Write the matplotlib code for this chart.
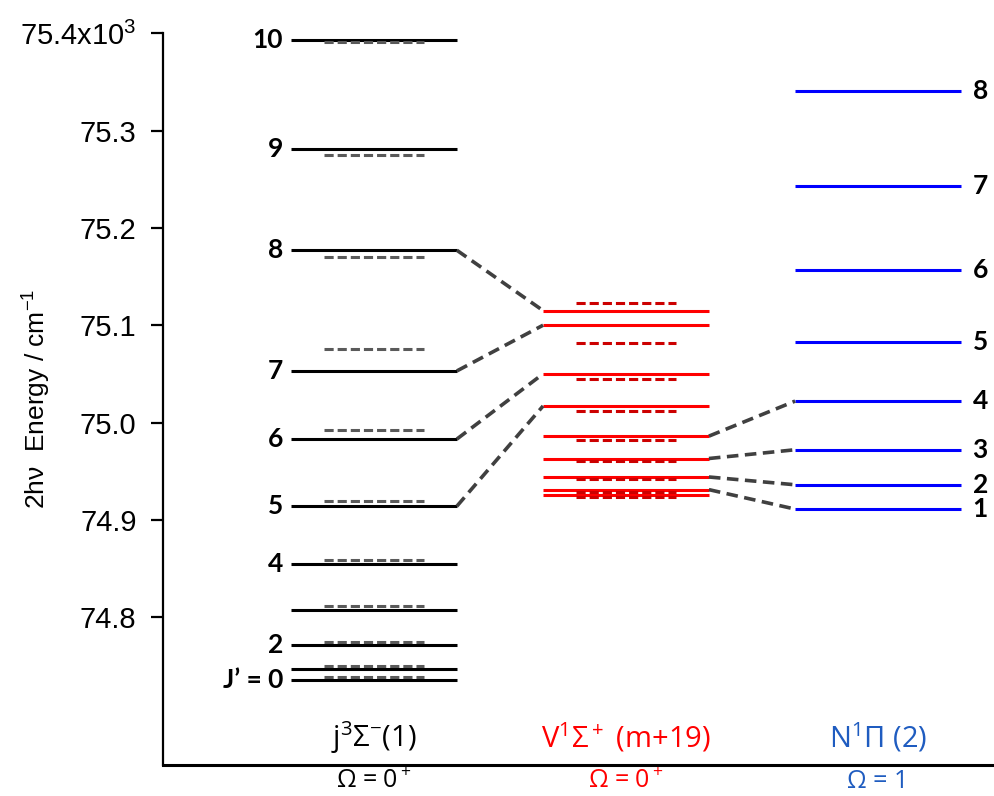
import matplotlib
matplotlib.use("Agg")
import matplotlib.pyplot as plt
from matplotlib.transforms import blended_transform_factory

# ---------------- data (cm^-1) ----------------
black_J = [0, 1, 2, 3, 4, 5, 6, 7, 8, 9, 10]
black_obs = [74735, 74747, 74771, 74807, 74855, 74914, 74983, 75053, 75177, 75281, 75393]
black_calc = [74738, 74750, 74774, 74811, 74859, 74919, 74992, 75076, 75170, 75275, 75391]
black_labels = ["J’ = 0", "", "2", "", "4", "5", "6", "7", "8", "9", "10"]

red_obs = [74925, 74931, 74944, 74963, 74986, 75017, 75050, 75100, 75115]
red_calc = [74923, 74929, 74942, 74960, 74982, 75012, 75045, 75082, 75123]

blue_J = [1, 2, 3, 4, 5, 6, 7, 8]
blue_obs = [74911, 74936, 74972, 75022, 75083, 75157, 75243, 75341]
blue_labels = ["1", "2", "3", "4", "5", "6", "7", "8"]

# connections: (black index -> red index), (red index -> blue index)
black_red_links = [(8, 8), (7, 7), (6, 6), (5, 5)]
red_blue_links = [(4, 3), (3, 2), (2, 1), (1, 0)]

ytick_vals = [74800, 74900, 75000, 75100, 75200, 75300, 75400]
ytick_labels = ["74.8", "74.9", "75.0", "75.1", "75.2", "75.3", r"75.4x10$\mathregular{^3}$"]

state_names = [r"j$\mathregular{^3}$Σ$\mathregular{^{-}}$(1)",
               r"V$\mathregular{^1}$Σ$\mathregular{^+}$ (m+19)",
               r"N$\mathregular{^1}$Π (2)"]
omega_names = [r"Ω = 0$\mathregular{^+}$", r"Ω = 0$\mathregular{^+}$", "Ω = 1"]

# ---------------- style ----------------
col_black = "black"
col_black_d = "#5a5a5a"
col_red = "#ff0000"
col_red_d = "#cc0000"
col_blue = "#0000ff"
col_blue_t = "#1f5cc0"
col_link = "#404040"
lab_font = ["Lato", "DejaVu Sans"]
name_font = "Open Sans"

HW = 0.329   # half width of solid levels
HWD = 0.198  # half width of dashed levels
LW = 2.2

fig = plt.figure(figsize=(9.95, 7.96), dpi=100)
ax = fig.add_axes([163 / 995, 31 / 796, 1 - 163 / 995, (765 - 33.3) / 796])

ax.set_xlim(-0.837, 2.464)
ax.set_ylim(74648, 75400)

dash = (0, (3.0, 1.3))

# black column (x=0)
for e in black_obs:
    ax.plot([0 - HW, 0 + HW], [e, e], color=col_black, lw=LW, solid_capstyle="butt")
for e in black_calc:
    ax.plot([0 - HWD, 0 + HWD], [e, e], color=col_black_d, lw=LW, linestyle=dash)
for e, lab in zip(black_obs, black_labels):
    if lab:
        ax.text(-0.36, e, lab, ha="right", va="center", fontsize=19,
                fontweight="bold", family=lab_font, color="black")

# red column (x=1)
for e in red_obs:
    ax.plot([1 - HW, 1 + HW], [e, e], color=col_red, lw=LW, solid_capstyle="butt")
for e in red_calc:
    ax.plot([1 - HWD, 1 + HWD], [e, e], color=col_red_d, lw=LW, linestyle=dash)

# blue column (x=2)
for e, lab in zip(blue_obs, blue_labels):
    ax.plot([2 - HW, 2 + HW], [e, e], color=col_blue, lw=LW, solid_capstyle="butt")
    ax.text(2.375, e, lab, ha="left", va="center", fontsize=19,
            fontweight="bold", family=lab_font, color="black")

# links
link_style = dict(color=col_link, lw=2.6, linestyle=(0, (3.2, 1.8)))
for bi, ri in black_red_links:
    ax.plot([0 + HW, 1 - HW], [black_obs[bi], red_obs[ri]], **link_style)
for ri, ni in red_blue_links:
    ax.plot([1 + HW, 2 - HW], [red_obs[ri], blue_obs[ni]], **link_style)

# state names
tr = blended_transform_factory(ax.transData, ax.transAxes)
name_cols = ["black", col_red, col_blue_t]
for i, (nm, om, c) in enumerate(zip(state_names, omega_names, name_cols)):
    ax.text(i, 0.037, nm, transform=tr, ha="center", va="center",
            fontsize=21, family=name_font, color=c)
    ax.text(i, -0.022, om, transform=tr, ha="center", va="center",
            fontsize=18, family=name_font, color=c, clip_on=False)

# axes styling
for s in ["top", "right"]:
    ax.spines[s].set_visible(False)
ax.spines["left"].set_linewidth(1.6)
ax.spines["bottom"].set_linewidth(2.2)
ax.set_xticks([])
ax.set_yticks(ytick_vals)
ax.set_yticklabels(ytick_labels, family="Liberation Sans", fontsize=21)
ax.tick_params(axis="y", length=9, width=1.6, pad=10)
ax.set_ylabel(r"2hν  Energy / cm$\mathregular{^{-1}}$", family="Liberation Sans",
              fontsize=19)
ax.yaxis.set_label_coords(-0.132, 0.5)

fig.savefig("out.png", dpi=100)
